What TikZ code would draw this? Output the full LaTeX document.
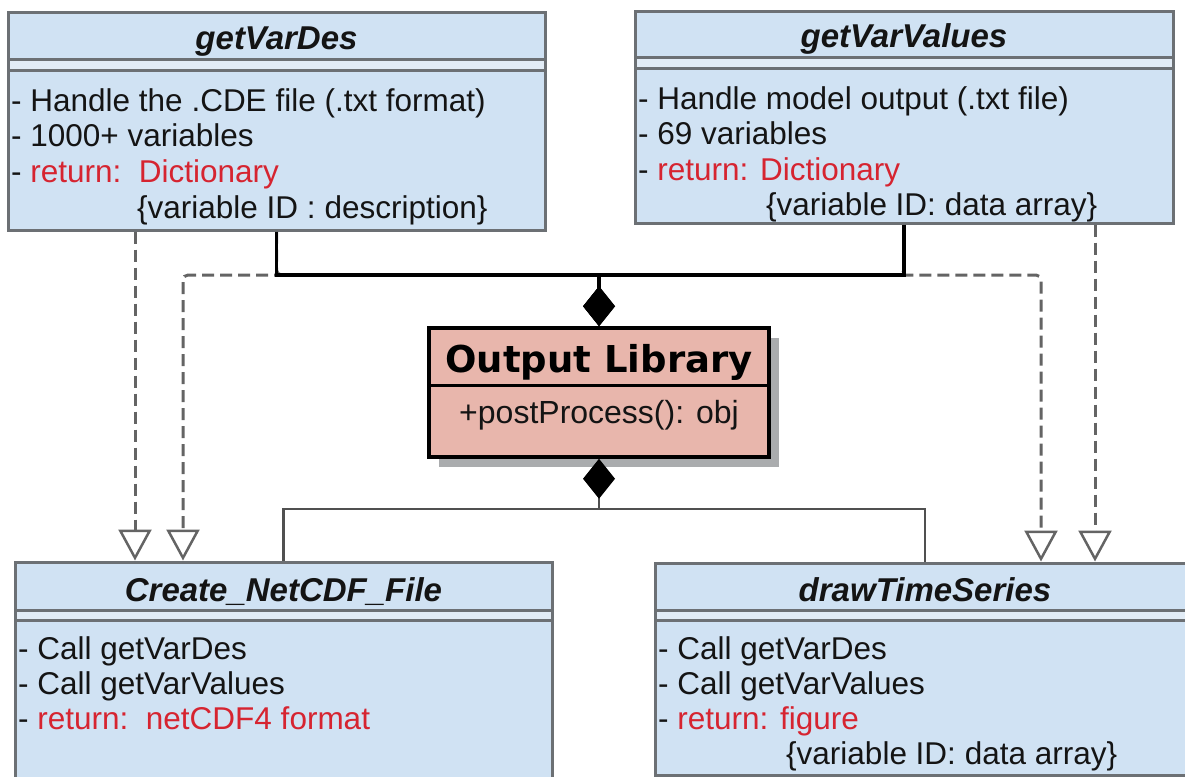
\documentclass[tikz,border=0pt]{standalone}
\usepackage{fontspec}
\setmainfont{Liberation Sans}
\newfontfamily\libfont{DejaVu Sans}
\usetikzlibrary{arrows.meta}
\definecolor{boxfill}{RGB}{208,226,243}
\definecolor{bandfill}{RGB}{226,236,246}
\definecolor{boxline}{RGB}{108,112,116}
\definecolor{libfill}{RGB}{232,182,172}
\definecolor{shadowc}{RGB}{170,172,174}
\definecolor{retred}{RGB}{214,36,48}
\definecolor{dashc}{RGB}{100,100,100}
\definecolor{txt}{RGB}{20,20,20}
\definecolor{botline}{RGB}{80,80,80}
\begin{document}
\begin{tikzpicture}[x=1pt,y=-1pt,
  clsbox/.style={draw=boxline, line width=3pt, fill=boxfill, rectangle, inner sep=0pt},
  libbox/.style={draw=black, line width=3.5pt, fill=libfill, rectangle, inner sep=0pt},
  sepline/.style={draw=boxline, line width=3pt},
  ttl/.style={font=\fontsize{33}{36}\selectfont\bfseries\itshape, text=txt, anchor=base, inner sep=0pt},
  body/.style={font=\fontsize{31.5}{36}\selectfont, text=txt, anchor=base west, inner sep=0pt},
  realize/.style={draw=dashc, line width=3pt, dash pattern=on 12pt off 6pt, rounded corners=5pt,
    -{Triangle[open, length=31pt, width=33pt, line width=2.5pt]}},
  compT/.style={draw=black, line width=3.2pt, -{Diamond[length=40pt, width=32pt]}},
  compB/.style={draw=botline, line width=2.5pt}
]
\useasboundingbox (0,0) rectangle (1185,776);

% ---------- class boxes ----------
\node[clsbox, minimum width=537pt, minimum height=217pt] (gvd) at (276.5,121.5) {};
\node[clsbox, minimum width=538pt, minimum height=211pt] (gvv) at (904,117.5) {};
\node[clsbox, minimum width=537pt, minimum height=228pt] (cnf) at (283.5,676) {};
\node[clsbox, minimum width=540pt, minimum height=212pt] (dts) at (925,669) {};

% header separators (double lines)
\fill[bandfill] (9.5,60) rectangle (543.5,70);
\draw[sepline] (8,60) -- (545,60);
\draw[sepline] (8,70) -- (545,70);
\fill[bandfill] (636.5,58) rectangle (1171.5,68);
\draw[sepline] (635,58) -- (1173,58);
\draw[sepline] (635,68) -- (1173,68);
\fill[bandfill] (16.5,610) rectangle (550.5,620);
\draw[sepline] (15,610) -- (552,610);
\draw[sepline] (15,620) -- (552,620);
\fill[bandfill] (656.5,610) rectangle (1193,620);
\draw[sepline] (655,610) -- (1195,610);
\draw[sepline] (655,620) -- (1195,620);

% titles
\node[ttl] (gvdT) at (276.5,49) {getVarDes};
\node[ttl] (gvvT) at (904,48) {getVarValues};
\node[ttl] (cnfT) at (283.5,601) {Create\_NetCDF\_File};
\node[ttl] (dtsT) at (925,601) {drawTimeSeries};

% bodies
\node[body] (gvd1) at (11,111) {- Handle the .CDE file (.txt format)};
\node[body] (gvd2) at (11,146) {- 1000+ variables};
\node[body] (gvd3) at (11,182) {- \textcolor{retred}{return:\ \ Dictionary}};
\node[body] (gvd4) at (137,218) {\{variable ID : description\}};

\node[body] (gvv1) at (638,109) {- Handle model output (.txt file)};
\node[body] (gvv2) at (638,144) {- 69 variables};
\node[body] (gvv3) at (638,180) {- \textcolor{retred}{return: Dictionary}};
\node[body] (gvv4) at (766,215) {\{variable ID: data array\}};

\node[body] (cnf1) at (18,659) {- Call getVarDes};
\node[body] (cnf2) at (18,694) {- Call getVarValues};
\node[body] (cnf3) at (18,729) {- \textcolor{retred}{return:\ \ netCDF4 format}};

\node[body] (dts1) at (658,659) {- Call getVarDes};
\node[body] (dts2) at (658,694) {- Call getVarValues};
\node[body] (dts3) at (658,729) {- \textcolor{retred}{return: figure}};
\node[body] (dts4) at (786,764) {\{variable ID: data array\}};

% ---------- Output Library ----------
\fill[shadowc] (439,338) rectangle (779,467);
\node[libbox, minimum width=340pt, minimum height=129pt] (lib) at (599,392.5) {};
\draw[black, line width=3pt] (429,385) -- (769,385);
\node[font=\libfont\fontsize{37}{40}\selectfont\bfseries, anchor=base, inner sep=0pt] (libT) at (599,372) {Output Library};
\node[font=\fontsize{32}{36}\selectfont, text=txt, anchor=base, inner sep=0pt] (libM) at (599,423) {+postProcess(): obj};

% ---------- junction coordinates ----------
\coordinate (jL) at (276.5,275);
\coordinate (jR) at (904,275);
\coordinate (hubT) at (599,275);
\coordinate (dL) at (183,275);
\coordinate (dR) at (1041,275);
\coordinate (xL) at (135,0);
\coordinate (xR) at (1095,0);
\coordinate (hubB) at (599,509);

% ---------- realization (dashed) connectors ----------
\draw[realize] (gvd.south -| xL) -- (cnf.north -| xL);
\draw[realize] (gvv.south -| xR) -- (dts.north -| xR);
\draw[realize] (gvd.south) -- (jL) -- (dR) -- (dts.north -| dR);
\draw[realize] (gvv.south) -- (jR) -- (dL) -- (cnf.north -| dL);

% ---------- composition connectors ----------
\draw[compT] (gvd.south) -- (jL) -- (hubT) -- (lib.north);
\draw[compT] (gvv.south) -- (jR) -- (hubT) -- (lib.north);
\draw[compB] (cnf.north) -- (cnf.north |- hubB) -- (hubB);
\draw[compB] (dts.north) -- (dts.north |- hubB) -- (hubB);
\draw[compB, -{Diamond[length=40pt, width=32pt, fill=black, color=black]}] (hubB) -- (lib.south);
\end{tikzpicture}
\end{document}
